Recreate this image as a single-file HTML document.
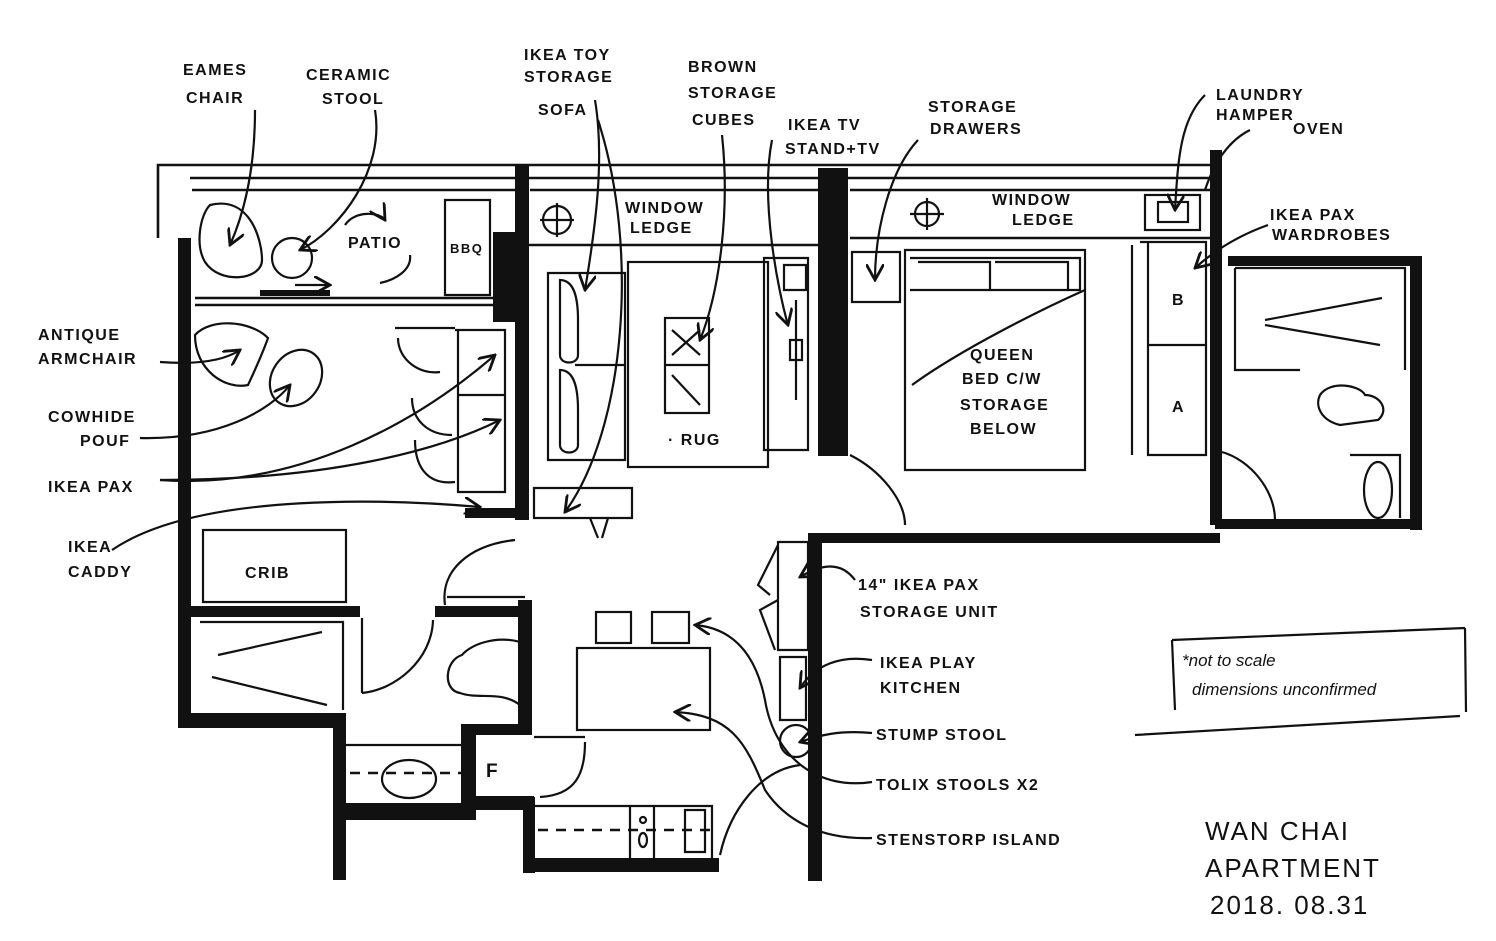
<!DOCTYPE html>
<html><head><meta charset="utf-8"><style>
html,body{margin:0;padding:0;background:#fff}
svg{display:block}
text{font-family:"Liberation Sans",sans-serif;font-size:16px;font-weight:bold;fill:#111;letter-spacing:1.5px}
.w{fill:#111}
.t{fill:none;stroke:#111;stroke-width:2.6}
.l{fill:none;stroke:#111;stroke-width:2.2}
.d{fill:none;stroke:#111;stroke-width:2.4;stroke-dasharray:10 8}
</style></head><body>
<svg width="1496" height="941" viewBox="0 0 1496 941" xmlns="http://www.w3.org/2000/svg">
<defs><marker id="a" viewBox="0 0 10 10" refX="9" refY="5" markerWidth="8" markerHeight="8" orient="auto"><path d="M0,0 L9,5 L0,10" fill="none" stroke="#111" stroke-width="1.6"/></marker></defs>

<path class="t" d="M158 238 V165 H1212 M158 178 V238 M190 178 H1212 M192 190 H515 M530 190 H818 M528 245 H818 M850 190 H1210 M850 238 H1210 M195 298 H500 M195 305 H500"/>
<rect class="w" x="178" y="238" width="13" height="490"/>
<rect class="w" x="515" y="165" width="14" height="355"/>
<rect class="w" x="493" y="232" width="22" height="90"/>
<rect class="w" x="818" y="168" width="30" height="288"/>
<rect class="w" x="1210" y="150" width="12" height="375"/>
<rect class="w" x="1228" y="256" width="194" height="10"/>
<rect class="w" x="1410" y="258" width="12" height="272"/>
<rect class="w" x="1215" y="519" width="207" height="10"/>
<rect class="w" x="818" y="533" width="402" height="10"/>
<rect class="w" x="808" y="533" width="14" height="348"/>
<rect class="w" x="190" y="606" width="170" height="11"/>
<rect class="w" x="190" y="713" width="155" height="15"/>
<rect class="w" x="333" y="713" width="13" height="167"/>
<rect class="w" x="435" y="606" width="97" height="11"/>
<rect class="w" x="518" y="600" width="14" height="135"/>
<rect class="w" x="461" y="724" width="71" height="11"/>
<rect class="w" x="461" y="724" width="15" height="96"/>
<rect class="w" x="345" y="803" width="131" height="17"/>
<rect class="w" x="476" y="796" width="58" height="14"/>
<rect class="w" x="523" y="797" width="12" height="76"/>
<rect class="w" x="523" y="858" width="196" height="14"/>
<rect class="w" x="465" y="508" width="50" height="10"/>
<rect class="w" x="260" y="290" width="70" height="6"/>

<path class="l" d="M210 205 C250 195 262 240 262 260 C262 280 220 285 205 262 C195 245 200 215 210 205Z"/>
<circle class="l" cx="292" cy="258" r="20"/>
<path class="l" d="M445 200 H490 V295 H445Z"/>
<text x="450" y="253" style="font-size:13px">BBQ</text>
<text x="348" y="248">PATIO</text>
<path class="l" d="M345 225 C355 210 380 212 385 220" marker-end="url(#a)"/>
<path class="l" d="M410 255 C412 270 395 280 380 283"/>
<path class="l" d="M295 285 H330" marker-end="url(#a)"/>
<path class="l" d="M195 335 C210 318 250 320 268 338 C262 355 255 370 248 385 C225 390 195 370 195 335Z"/>
<ellipse class="l" cx="296" cy="378" rx="24" ry="30" transform="rotate(35 296 378)"/>
<path class="l" d="M395 328 H455 M455 330 H505 V492 H458 V330 M458 395 H505 M398 338 C398 360 420 375 440 372 M412 398 C412 420 428 435 452 435 M415 440 C415 470 430 485 455 482"/>
<path class="l" d="M548 273 H625 V460 H548Z M560 280 C575 280 578 300 578 320 V355 C578 365 560 365 560 355Z M560 370 C575 370 578 390 578 410 V445 C578 455 560 455 560 445Z M575 365 H625"/>
<rect class="l" x="628" y="262" width="140" height="205"/>
<rect class="l" x="665" y="318" width="44" height="95"/>
<path class="l" d="M665 365 H709 M672 330 L700 355 M700 330 L672 355 M672 375 L700 405"/>
<text x="668" y="445">· RUG</text>
<path class="l" d="M764 258 H808 V450 H764Z M784 265 H806 V290 H784Z M796 300 V400 M790 340 H802 V360 H790Z"/>
<path class="l" d="M534 488 H632 V518 H534Z M590 518 L598 538 M608 518 L602 538"/>
<circle class="l" cx="557" cy="220" r="14"/><path class="l" d="M540 220 H574 M557 203 V237"/>
<circle class="l" cx="927" cy="214" r="12"/><path class="l" d="M910 214 H944 M927 198 V230"/>
<text x="625" y="213">WINDOW</text><text x="630" y="233">LEDGE</text>
<text x="992" y="205">WINDOW</text><text x="1012" y="225">LEDGE</text>
<path class="l" d="M852 252 H900 V302 H852Z M905 250 H1085 V470 H905Z M910 258 H1080 V290 H910 M918 262 H990 V290 M995 262 H1068 V290"/>
<text x="970" y="360">QUEEN</text><text x="962" y="384">BED C/W</text><text x="960" y="410">STORAGE</text><text x="970" y="434">BELOW</text>
<path class="l" d="M1140 242 H1206 V455 H1148 V242 M1148 345 H1206 M1132 245 V455"/>
<text x="1172" y="305">B</text><text x="1172" y="412">A</text>
<rect class="l" x="1145" y="195" width="55" height="35"/><rect class="l" x="1158" y="202" width="30" height="20"/>
<path class="l" d="M850 455 C880 470 905 500 905 525 M1222 452 C1250 460 1275 490 1275 520"/>
<path class="l" d="M1235 268 H1405 V370 M1235 268 V370 H1300 M1265 320 L1382 298 M1265 325 L1380 345 M1350 455 H1400 V518 M1320 395 C1330 380 1360 385 1365 395 C1380 395 1390 410 1378 420 L1340 425 C1320 420 1315 405 1320 395Z"/>
<ellipse class="l" cx="1378" cy="490" rx="14" ry="28"/>
<rect class="l" x="203" y="530" width="143" height="72"/>
<text x="245" y="578">CRIB</text>
<path class="l" d="M200 622 H343 V710 M218 655 L322 632 M212 677 L327 705 M362 618 V693 M362 693 C395 690 432 660 433 620 M445 605 C440 570 470 545 515 540"/>
<path class="l" d="M447 597 H525"/>
<path class="l" d="M520 642 C495 635 470 645 462 655 C445 660 442 690 460 693 C480 700 500 690 520 705"/>
<path class="l" d="M345 745 H461"/>
<path class="d" d="M350 773 H461"/>
<ellipse class="l" cx="409" cy="779" rx="27" ry="19" fill="#fff"/>
<text x="486" y="777" style="font-size:19px">F</text>
<path class="l" d="M534 737 H585 M585 742 C585 775 575 795 540 797"/>
<path class="l" d="M535 806 H712 V858 M630 806 V858 M654 806 V858 M685 810 H705 V852 H685Z"/>
<path class="d" d="M538 830 H710"/>
<circle class="l" cx="643" cy="820" r="3"/><ellipse class="l" cx="643" cy="840" rx="4" ry="7"/>
<rect class="l" x="577" y="648" width="133" height="82"/>
<rect class="l" x="596" y="612" width="35" height="31"/>
<rect class="l" x="652" y="612" width="37" height="31"/>
<path class="l" d="M778 542 H808 V650 H778Z M778 545 L758 585 L770 595 M778 600 L760 610 L775 650 M780 657 H806 V720 H780Z"/>
<circle class="l" cx="796" cy="741" r="16"/>
<path class="l" d="M1172 640 L1465 628 M1172 640 L1175 710 M1465 628 L1466 712 M1135 735 L1460 716"/>
<text x="1182" y="666" style="font-size:17px;letter-spacing:0;font-weight:normal;font-style:italic">*not to scale</text>
<text x="1192" y="695" style="font-size:17px;letter-spacing:0;font-weight:normal;font-style:italic">dimensions unconfirmed</text>
<text x="1205" y="840" style="font-size:26px;font-weight:normal;letter-spacing:2px">WAN CHAI</text>
<text x="1205" y="877" style="font-size:26px;font-weight:normal;letter-spacing:2px">APARTMENT</text>
<text x="1210" y="914" style="font-size:26px;font-weight:normal;letter-spacing:2px">2018. 08.31</text>

<text x="183" y="75">EAMES</text><text x="186" y="103">CHAIR</text>
<text x="306" y="80">CERAMIC</text><text x="322" y="104">STOOL</text>
<text x="524" y="60">IKEA TOY</text><text x="524" y="82">STORAGE</text><text x="538" y="115">SOFA</text>
<text x="688" y="72">BROWN</text><text x="688" y="98">STORAGE</text><text x="692" y="125">CUBES</text>
<text x="788" y="130">IKEA TV</text><text x="785" y="154">STAND+TV</text>
<text x="928" y="112">STORAGE</text><text x="930" y="134">DRAWERS</text>
<text x="1216" y="100">LAUNDRY</text><text x="1216" y="120">HAMPER</text><text x="1293" y="134">OVEN</text>
<text x="1270" y="220">IKEA PAX</text><text x="1272" y="240">WARDROBES</text>
<text x="38" y="340">ANTIQUE</text><text x="38" y="364">ARMCHAIR</text>
<text x="48" y="422">COWHIDE</text><text x="80" y="446">POUF</text>
<text x="48" y="492">IKEA PAX</text>
<text x="68" y="552">IKEA</text><text x="68" y="577">CADDY</text>
<text x="858" y="590">14" IKEA PAX</text><text x="860" y="617">STORAGE UNIT</text>
<text x="880" y="668">IKEA PLAY</text><text x="880" y="693">KITCHEN</text>
<text x="876" y="740">STUMP STOOL</text>
<text x="876" y="790">TOLIX STOOLS X2</text>
<text x="876" y="845">STENSTORP ISLAND</text>

<path class="l" d="M255 110 C255 150 250 200 230 245" marker-end="url(#a)"/>
<path class="l" d="M375 110 C385 170 340 230 300 250" marker-end="url(#a)"/>
<path class="l" d="M595 100 C605 160 595 230 585 290" marker-end="url(#a)"/>
<path class="l" d="M598 120 C640 250 625 430 565 512" marker-end="url(#a)"/>
<path class="l" d="M722 135 C730 210 720 290 700 340" marker-end="url(#a)"/>
<path class="l" d="M772 140 C760 200 778 290 788 325" marker-end="url(#a)"/>
<path class="l" d="M918 140 C890 170 875 230 875 280" marker-end="url(#a)"/>
<path class="l" d="M1205 95 C1180 120 1178 160 1175 210" marker-end="url(#a)"/>
<path class="l" d="M1250 130 C1230 140 1215 160 1205 190"/>
<path class="l" d="M1268 225 C1240 235 1215 250 1195 268" marker-end="url(#a)"/>
<path class="l" d="M160 362 C200 365 225 360 240 350" marker-end="url(#a)"/>
<path class="l" d="M140 438 C220 440 270 410 290 385" marker-end="url(#a)"/>
<path class="l" d="M160 480 C300 490 420 420 495 355" marker-end="url(#a)"/>
<path class="l" d="M160 480 C330 480 440 450 500 420" marker-end="url(#a)"/>
<path class="l" d="M112 550 C200 490 400 500 480 507" marker-end="url(#a)"/>
<path class="l" d="M912 385 C960 350 1040 310 1085 290"/>
<path class="l" d="M855 580 C840 560 820 565 800 577" marker-end="url(#a)"/>
<path class="l" d="M872 660 C840 655 815 665 800 688" marker-end="url(#a)"/>
<path class="l" d="M872 733 C840 730 820 735 800 742" marker-end="url(#a)"/>
<path class="l" d="M872 782 C820 790 775 760 765 700 C755 650 730 628 695 625" marker-end="url(#a)"/>
<path class="l" d="M872 838 C820 840 785 820 765 790 C745 740 730 715 675 712" marker-end="url(#a)"/>
<path class="l" d="M800 765 C760 770 730 810 720 855"/>
</svg>
</body></html>
